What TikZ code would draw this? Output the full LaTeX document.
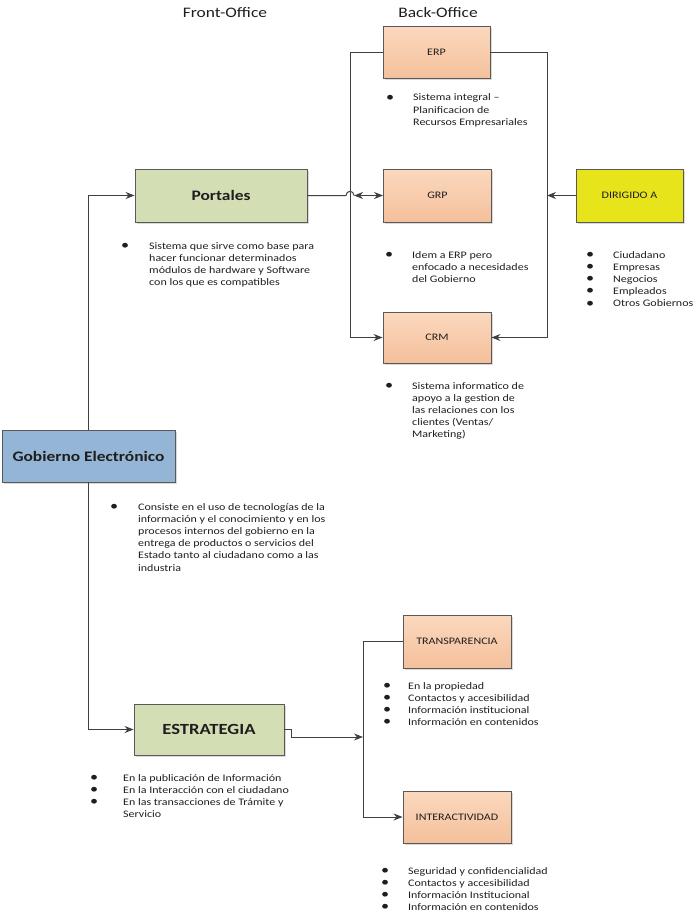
\documentclass[tikz,border=0pt]{standalone}
\usepackage{fontspec}
\usepackage{graphicx}
\setmainfont{Carlito}[FakeStretch=1.2]
\usetikzlibrary{calc,shadows,arrows.meta}

\definecolor{lineg}{HTML}{404040}
\definecolor{orangef}{RGB}{248,204,172}
\definecolor{orangetop}{RGB}{251,216,190}
\definecolor{orangebot}{RGB}{244,192,155}
\definecolor{greenf}{RGB}{212,222,180}
\definecolor{bluef}{RGB}{149,181,214}
\definecolor{yellowf}{RGB}{232,228,28}
\definecolor{txt}{HTML}{1E1E1E}

\newcommand\bul{\raisebox{-0.2pt}{\scalebox{1.35}{\textbullet}}}

\tikzset{
  basebox/.style={draw=black!65, line width=0.9pt, inner sep=0pt, text=txt,
    drop shadow={shadow xshift=1.5pt, shadow yshift=-1.5pt, opacity=0.3}},
  obox/.style={basebox, top color=orangetop, bottom color=orangebot, minimum width=108pt, minimum height=52pt, font=\fontsize{10}{12}\selectfont},
  gbox/.style={basebox, fill=greenf, font=\bfseries\fontsize{14.5}{16}\selectfont},
  bbox/.style={basebox, fill=bluef, font=\bfseries\fontsize{14.5}{16}\selectfont},
  ybox/.style={basebox, fill=yellowf, minimum width=107pt, minimum height=53pt, font=\fontsize{10}{12}\selectfont},
  lst/.style={inner sep=0pt, text=txt, anchor=base west, font=\fontsize{10}{12.2}\selectfont},
  hdr/.style={inner sep=0pt, text=txt, font=\fontsize{14.5}{16}\selectfont},
  ln/.style={draw=lineg, line width=1pt},
  arr/.style={ln, -{Stealth[length=9pt,width=7pt]}},
  arrboth/.style={ln, {Stealth[length=9pt,width=7pt]}-{Stealth[length=9pt,width=7pt]}},
}

\begin{document}
\begin{tikzpicture}[x=1pt,y=-1pt]
\useasboundingbox (0,0) rectangle (696,915);

% headers
\node[hdr] (fo) at (225,13) {Front-Office};
\node[hdr] (bo) at (438,13) {Back-Office};

% back-office boxes
\node[obox, minimum width=107pt] (erp) at (436.5,52.5) {ERP};
\node[obox, minimum height=53pt] (grp) at (437.5,195.5) {GRP};
\node[obox, minimum height=51pt] (crm) at (437,337.5) {CRM};
\node[ybox] (dir) at (629.5,195.5) {DIRIGIDO A};

% front-office boxes
\node[gbox, minimum width=172pt, minimum height=53pt] (portales) at (221,195.5) {Portales};
\node[bbox, minimum width=173pt, minimum height=52pt] (gob) at (88.5,456) {Gobierno Electrónico};
\node[gbox, minimum width=150pt, minimum height=51pt, font=\bfseries\fontsize{15.5}{17}\selectfont] (estr) at (209,729.5) {ESTRATEGIA};

\node[obox, minimum height=53pt] (trans) at (457,641.5) {TRANSPARENCIA};
\node[obox] (inter) at (457,817) {INTERACTIVIDAD};

% frame coordinates
\coordinate (fl) at (350,52.5);
\coordinate (fr) at (547,52.5);
\coordinate (bj) at (363,737);

% connectors back-office
\draw[arr] (erp.west) -- (fl) |- (crm.west);
\draw[arr] (erp.east) -- (fr) |- (crm.east);
\draw[arr] (dir.west) -- (dir.west -| fr);
\draw[ln] (portales.east) -- ($(portales.east -| fl)+(-4,0)$)
   .. controls +(0,-5.5) and +(0,-5.5) .. ($(portales.east -| fl)+(4,0)$);
\draw[arrboth] ($(grp.west -| fl)+(4,0)$) -- (grp.west);

% connectors front-office
\draw[arr] (gob.north) |- (portales.west);
\draw[arr] (gob.south) |- (estr.west);
\draw[arr] (estr.east) -- ++(7,0) |- (bj);
\draw[arr] (trans.west) -- (trans.west -| bj) |- (inter.west);

% lists
\node[lst] (erpt) at (386,101) {\begin{tabular}[t]{@{}p{27pt}@{}l@{}}
\bul & Sistema integral –\\ & Planificacion de\\ & Recursos Empresariales\end{tabular}};

\node[lst] (grpt) at (385,258) {\begin{tabular}[t]{@{}p{27pt}@{}l@{}}
\bul & Idem a ERP pero\\ & enfocado a necesidades\\ & del Gobierno\end{tabular}};

\node[lst] (crmt) at (385,389) {\begin{tabular}[t]{@{}p{27pt}@{}l@{}}
\bul & Sistema informatico de\\ & apoyo a la gestion de\\ & las relaciones con los\\ & clientes (Ventas/\\ & Marketing)\end{tabular}};

\node[lst] (dirt) at (586,258) {\begin{tabular}[t]{@{}p{27pt}@{}l@{}}
\bul & Ciudadano\\ \bul & Empresas\\ \bul & Negocios\\ \bul & Empleados\\ \bul & Otros Gobiernos\end{tabular}};

\node[lst] (portt) at (121,249) {\begin{tabular}[t]{@{}p{28pt}@{}l@{}}
\bul & Sistema que sirve como base para\\ & hacer funcionar determinados\\ & módulos de hardware y Software\\ & con los que es compatibles\end{tabular}};

\node[lst] (gobt) at (110,510) {\begin{tabular}[t]{@{}p{28pt}@{}l@{}}
\bul & Consiste en el uso de tecnologías de la\\ & información y el conocimiento y en los\\ & procesos internos del gobierno en la\\ & entrega de productos o servicios del\\ & Estado tanto al ciudadano como a las\\ & industria\end{tabular}};

\node[lst] (estrt) at (90,781) {\begin{tabular}[t]{@{}p{33pt}@{}l@{}}
\bul & En la publicación de Información\\ \bul & En la Interacción con el ciudadano\\ \bul & En las transacciones de Trámite y\\ & Servicio\end{tabular}};

\node[lst] (transt) at (383,689) {\begin{tabular}[t]{@{}p{25pt}@{}l@{}}
\bul & En la propiedad\\ \bul & Contactos y accesibilidad\\ \bul & Información institucional\\ \bul & Información en contenidos\end{tabular}};

\node[lst] (intert) at (381,874) {\begin{tabular}[t]{@{}p{27pt}@{}l@{}}
\bul & Seguridad y confidencialidad\\ \bul & Contactos y accesibilidad\\ \bul & Información Institucional\\ \bul & Información en contenidos\end{tabular}};

\end{tikzpicture}
\end{document}
